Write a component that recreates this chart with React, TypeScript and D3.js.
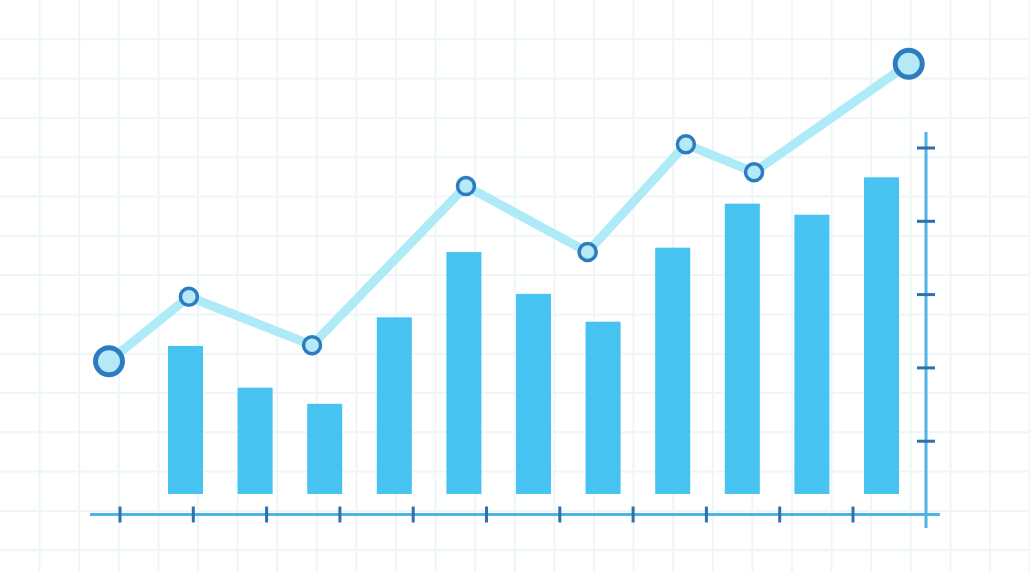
import React from "react";
import * as d3 from "d3";

const W = 1030;
const H = 572;

const categories = ["1", "2", "3", "4", "5", "6", "7", "8", "9", "10", "11"];
const barValues = [2.3, 1.73, 1.51, 2.69, 3.58, 3.01, 2.63, 3.64, 4.24, 4.09, 4.6];
const barBase = 0.28;

const lineX = [-0.15, 0.94, 2.62, 4.72, 6.38, 7.72, 8.65, 10.76];
const lineY = [2.09, 2.97, 2.31, 4.48, 3.58, 5.05, 4.67, 6.15];

const xTicks = [0, 1, 2, 3, 4, 5, 6, 7, 8, 9, 10];
const yTicks = [1, 2, 3, 4, 5];

export default function App() {
  const x = d3.scaleLinear().domain([0, 10]).range([120, 853]);
  const y = d3.scaleLinear().domain([0, 5]).range([514.5, 148]);
  const band = d3
    .scaleBand<string>()
    .domain(categories)
    .range([150.6, 916.4])
    .paddingInner(0.497)
    .paddingOuter(0.25);

  const gridX = d3.range(1, 27).map((k) => k * 39.6);
  const gridY = d3.range(1, 15).map((k) => k * 39.3);

  const pts = lineX.map((v, i) => [x(v), y(lineY[i])] as [number, number]);
  const line = d3.line<[number, number]>()(pts) || "";

  const axisColor = "#4db4e4";
  const tickColor = "#2f6faa";
  const yAxisX = 926;
  const xAxisY = y(0);

  return (
    <svg
      width={W}
      height={H}
      style={{ position: "absolute", left: 0, top: 0, background: "#ffffff" }}
    >
      <rect width={W} height={H} fill="#ffffff" />
      <g stroke="#eef6f8" strokeWidth={2}>
        {gridX.map((gx, i) => (
          <line key={"gx" + i} x1={gx} x2={gx} y1={0} y2={H} />
        ))}
        {gridY.map((gy, i) => (
          <line key={"gy" + i} x1={0} x2={W} y1={gy} y2={gy} />
        ))}
      </g>
      <g fill="#46c3f1">
        {barValues.map((v, i) => (
          <rect
            key={i}
            x={band(categories[i])}
            width={band.bandwidth()}
            y={y(v)}
            height={y(barBase) - y(v)}
          />
        ))}
      </g>
      <line x1={90} x2={940} y1={xAxisY} y2={xAxisY} stroke={axisColor} strokeWidth={3} />
      <line x1={yAxisX} x2={yAxisX} y1={132} y2={528} stroke={axisColor} strokeWidth={3} />
      <g stroke={tickColor} strokeWidth={3}>
        {xTicks.map((t) => (
          <line key={"xt" + t} x1={x(t)} x2={x(t)} y1={xAxisY - 8} y2={xAxisY + 8} />
        ))}
        {yTicks.map((t) => (
          <line key={"yt" + t} x1={yAxisX - 9} x2={yAxisX + 9} y1={y(t)} y2={y(t)} />
        ))}
      </g>
      <path d={line} fill="none" stroke="#aeeaf7" strokeWidth={9} strokeLinejoin="round" />
      {pts.map((p, i) => {
        const big = i === 0 || i === pts.length - 1;
        return (
          <circle
            key={"c" + i}
            cx={p[0]}
            cy={p[1]}
            r={big ? 13.5 : 8.5}
            fill="#b5e9f8"
            stroke="#2d7cbf"
            strokeWidth={big ? 5 : 3.5}
          />
        );
      })}
    </svg>
  );
}
